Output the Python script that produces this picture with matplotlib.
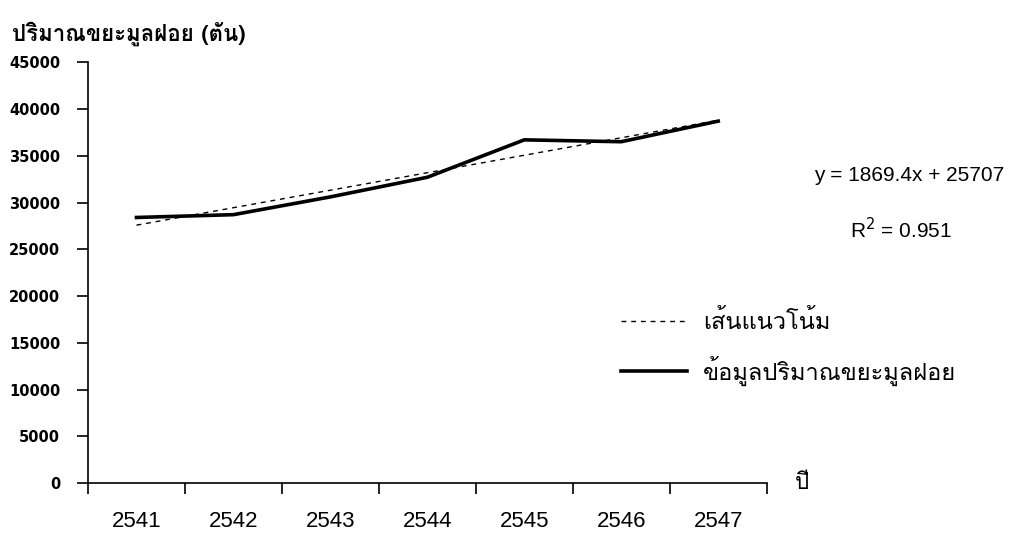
import matplotlib
matplotlib.use("Agg")
import matplotlib.pyplot as plt
import numpy as np
from matplotlib import font_manager as fm
from matplotlib.ft2font import FT2Font

# find an installed font that has Thai glyphs
thai_font = None
for f in sorted(fm.findSystemFonts()):
    try:
        if FT2Font(f).get_char_index(0x0E1B):
            thai_font = fm.FontProperties(fname=f).get_name()
            break
    except Exception:
        pass
thai_family = [thai_font, "DejaVu Sans"] if thai_font else ["DejaVu Sans"]

years = ["2541", "2542", "2543", "2544", "2545", "2546", "2547"]
waste = [28400, 28700, 30600, 32700, 36700, 36500, 38700]
slope = 1869.4
intercept = 25707
r2 = 0.951

y_title = "ปริมาณขยะมูลฝอย (ตัน)"
x_title = "ปี"
trend_label = "เส้นแนวโน้ม"
data_label = "ข้อมูลปริมาณขยะมูลฝอย"

x = np.arange(1, len(years) + 1)
trend = slope * x + intercept

fig = plt.figure(figsize=(10.16, 5.41), dpi=100)
ax = fig.add_axes([0.0866, 0.107, 0.668, 0.778])

ax.plot(x, trend, color="black", lw=1.0, ls=(0, (3.5, 3.5)), label=trend_label)
ax.plot(x, waste, color="black", lw=2.6, label=data_label)

ax.set_xlim(0.5, len(years) + 0.5)
ax.set_ylim(0, 45000)
ax.set_yticks(np.arange(0, 45001, 5000))
ax.set_xticks(np.arange(0.5, len(years) + 1, 1))
ax.set_xticklabels([])
ax.set_xticks(x, minor=True)
ax.set_xticklabels(years, minor=True, fontsize=16, family="Liberation Sans")
ax.tick_params(axis="x", which="minor", length=0, pad=20)
ax.tick_params(axis="x", which="major", length=8, width=1.2, direction="out")
ax.tick_params(axis="y", length=8, width=1.2, direction="out", pad=12)
for lab in ax.get_yticklabels():
    lab.set_fontweight("bold")
    lab.set_fontsize(10.5)
    lab.set_family("DejaVu Sans")

for s in ["top", "right"]:
    ax.spines[s].set_visible(False)
for s in ["left", "bottom"]:
    ax.spines[s].set_linewidth(1.2)

fig.text(0.012, 0.925, y_title, fontsize=16, fontweight="bold", family=thai_family)
fig.text(0.782, 0.107, x_title, fontsize=16, va="center", family=thai_family)

fig.text(0.895, 0.675, f"y = {slope}x + {intercept}", fontsize=15,
         family="Liberation Sans", ha="center", va="center")
fig.text(0.887, 0.575, f"R$^2$ = {r2}", fontsize=15,
         family="Liberation Sans", ha="center", va="center")

leg = ax.legend(loc="upper left", bbox_to_anchor=(0.59, 0.466), bbox_transform=fig.transFigure,
                frameon=False, handlelength=2.8, handletextpad=0.7, labelspacing=0.9,
                prop=fm.FontProperties(family=thai_family, size=17))

fig.savefig("out.png", dpi=100, facecolor="white")
